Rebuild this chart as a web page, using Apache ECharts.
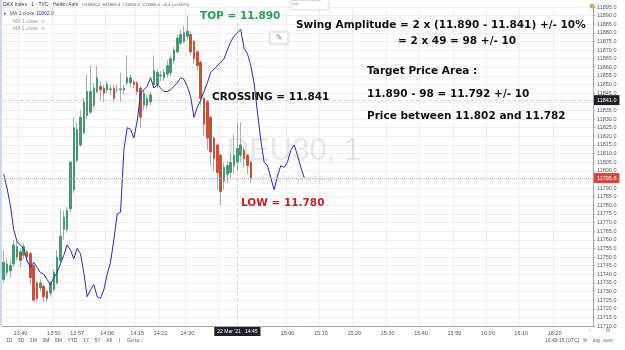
<!DOCTYPE html>
<html><head><meta charset="utf-8">
<script src="https://cdn.jsdelivr.net/npm/echarts@6/dist/echarts.min.js"></script>
<style>html,body{margin:0;padding:0;background:#fff}#c{width:625px;height:350px}</style>
</head><body><div id="c"></div>
<script>
// ---- data (1-minute Heikin Ashi candles, DAX) ----
const opens  = [11737,11741,11742,11746,11750,11753,11751,11753,11752,11745,
                11735,11732,11733,11730,11729,11731,11735,11748,11766,11766,
                11778,11789,11806,11815,11822,11832,11834,11838,11846,11849,
                11848,11847,11847,11848,11847,11847,11847,11851,11851,11851.5,
                11851,11848,11838,11838,11840,11850,11850,11855,11854,11856,
                11857,11864,11869,11874,11875,11878,11879,11875,11869,11863,
                11842,11840,11831,11819,11815,11809,11794,11798,11799,11803,
                11805,11809,11812,11809,11805];
const closes = [11747,11746,11745,11757,11756,11748,11756,11750,11738,11725,
                11726,11735,11727,11726,11735,11741,11750,11762,11773,11777,
                11805,11825,11824,11831,11840,11846,11846,11848,11854,11847,
                11845,11850,11847.5,11842,11847,11847.5,11848,11854,11854,11850,
                11846,11831,11845,11842,11844,11858,11857,11855.5,11857,11861,
                11865,11870,11877,11879,11880,11881,11869,11865,11861,11842,
                11827,11819,11811,11807,11799,11788,11802,11803,11805,11809,
                11813,11815,11807,11803,11795.8];
const lows   = [11735,11739,11738,11744,11748,11744,11749,11747,11734,11724,
                11724,11730,11724,11724,11727,11730,11734,11747,11760,11764,
                11776,11787,11805,11814,11821,11830,11833,11836,11845,11841,
                11840,11845,11844,11840,11845,11840,11844,11849,11849,11848,
                11844,11825,11835,11836,11838,11848,11848,11852,11852,11854,
                11855,11862,11868,11873,11874,11876,11867,11862,11858,11838,
                11820,11812,11803,11800,11789,11780,11789,11793,11795,11798,
                11800,11805,11802,11798,11793];
const highs  = [11754,11749,11748,11760,11759,11755,11758,11754,11753,11746,
                11736,11737,11734,11731,11736,11743,11754,11778,11777,11779,
                11806,11831,11828,11835,11842,11856,11861,11851,11861,11852,
                11850,11852,11850,11850,11850,11857,11850,11867,11856,11853,
                11852,11849,11847,11844,11846,11867,11859,11858,11859,11864,
                11867,11872,11879,11882,11884,11890,11881,11876,11870,11864,
                11843,11841,11832,11820,11816,11810,11805,11806,11810,11821,
                11828,11828,11814,11810,11806];
// overlay line (MA 1 close, blue)
const maLine = [11798,11790,11780,11766,11759,11757,11755,11748,11744,11747,
                11744,11741,11740,11737,11734,11738,11741,11746,11751,11757,
                11754,11749,11755,11752,11741,11727,11731,11734,11727,11726,
                11731,11740,11747,11760,11775,11776,11812,11825,11824,11819,
                11829,11845,11847,11849,11854,11848,11850,11848,11846,11846,
                11847,11849,11851,11854,11853,11849,11843,11831,11837,11841,
                11846,11851,11857,11859,11861,11863,11865,11870,11875,11878,
                11880,11882,11871,11868,11861,11851,11834,11818,11805,11803,
                11796,11789,11797,11803,11802,11805,11812,11815,11809,11802,
                11796];
const xTickLabels = ['13:40','13:50','13:57','14:06','14:15','14:22','14:30','14:40',
                     '15:00','15:10','15:20','15:30','15:40','15:50','16:00','16:10','16:20'];
const startMinute = 13*60+35;
const minuteCount = 177;
const currentPrice = 11795.8;
const crossingPrice = 11841;
const crosshairTime = '14:45';
const yMin = 11710, yMax = 11895, yStep = 5;

const categories = [];
for (let i = 0; i < minuteCount; i++) {
  const m = startMinute + i;
  categories.push(String(Math.floor(m/60)).padStart(2,'0') + ':' + String(m%60).padStart(2,'0'));
}
const wickData = opens.map((o,i)=>[o, closes[i], lows[i], highs[i]]);
const bodyData = opens.map((o,i)=>[o, closes[i], Math.min(o,closes[i]), Math.max(o,closes[i])]);

const GREEN = '#4a9870', RED = '#c6523b';
const small = {fontSize:5.5, color:'#555', fontFamily:'"Liberation Sans", Arial'};
const bold = 'bold 10.5px "DejaVu Sans", Verdana';
const showTick = (idx, val) => xTickLabels.includes(val);
const crossLine = {color:'rgba(140,140,140,0.3)', type:'dashed', width:1};
const blackLabel = {show:true, distance:1, backgroundColor:'#1e2228', color:'#fff', fontSize:5.5, padding:[2,3], fontFamily:'"Liberation Sans", Arial'};

const chart = echarts.init(document.getElementById('c'), null, {renderer:'canvas'});
chart.setOption({
  animation:false,
  backgroundColor:'#fff',
  grid:{left:2, right:32, top:7, bottom:24, show:false},
  xAxis:{type:'category', data:categories, boundaryGap:true,
    axisLine:{lineStyle:{color:'#a3a8ae'}}, axisTick:{show:false},
    axisLabel:Object.assign({interval:showTick, margin:4}, small),
    splitLine:{show:true, interval:showTick, lineStyle:{color:'#eceff3'}}},
  yAxis:{type:'value', position:'right', min:yMin, max:yMax, interval:yStep,
    axisLine:{show:true, lineStyle:{color:'#a3a8ae'}},
    axisTick:{show:true, length:2, lineStyle:{color:'#a3a8ae'}},
    axisLabel:Object.assign({margin:4, formatter:v=>v.toFixed(1)}, small),
    splitLine:{show:true, lineStyle:{color:'#eef0f4'}}},
  series:[
    {type:'candlestick', data:wickData, barWidth:1, z:2,
      itemStyle:{color:'#a6b0aa', color0:'#a6b0aa', borderColor:'#a6b0aa', borderColor0:'#a6b0aa', borderWidth:1}},
    {type:'candlestick', data:bodyData, barWidth:2, z:3,
      itemStyle:{color:GREEN, color0:RED, borderColor:GREEN, borderColor0:RED, borderWidth:1},
      markLine:{silent:true, symbol:'none', animation:false, data:[
        {yAxis:currentPrice, lineStyle:{color:'#bdbdbd', type:'dotted', width:1},
          label:Object.assign({}, blackLabel, {position:'end', formatter:currentPrice.toFixed(1), backgroundColor:'#e0453c'})},
        {yAxis:crossingPrice, lineStyle:crossLine,
          label:Object.assign({}, blackLabel, {position:'end', formatter:crossingPrice.toFixed(1)})},
        {xAxis:crosshairTime, lineStyle:crossLine,
          label:Object.assign({}, blackLabel, {position:'start', fontSize:5, formatter:"22 Mar '21   " + crosshairTime})}
      ]}},
    {type:'line', data:maLine, showSymbol:false, symbol:'none', z:4,
      lineStyle:{color:'#2d2d9e', width:1}}
  ],
  graphic:[
    {type:'rect', z:0, shape:{x:0,y:0,width:2,height:326}, style:{fill:'#cdd9ee'}},
    {type:'text', z:1, x:294, y:151, style:{text:'DEU30, 1', font:'31px "Liberation Sans", Arial', fill:'rgba(0,0,0,0.09)', textAlign:'center', textVerticalAlign:'middle'}},
    {type:'text', z:1, x:297, y:180, style:{text:'DAX Index', font:'15px "Liberation Sans", Arial', fill:'rgba(0,0,0,0.09)', textAlign:'center', textVerticalAlign:'middle'}},
    // header legend
    {type:'text', z:50, x:3, y:5, style:{text:'DAX Index · 1 · TVC · Heikin Ashi', font:'5px "Liberation Sans", Arial', fill:'#333', textVerticalAlign:'middle'}},
    {type:'text', z:50, x:82, y:5, style:{text:'O11805.2  H11805.4  L11805.2  C11805.4  +0.4 (+0.00%)', font:'4.2px "Liberation Sans", Arial', fill:'#555', textVerticalAlign:'middle'}},
    {type:'text', z:50, x:4, y:14, style:{text:'▸  MA 1 close', font:'5px "Liberation Sans", Arial', fill:'#555', textVerticalAlign:'middle'}},
    {type:'text', z:50, x:36, y:14, style:{text:'11802.0', font:'5px "Liberation Sans", Arial', fill:'#2d2d9e', textVerticalAlign:'middle'}},
    {type:'text', z:50, x:13, y:22, style:{text:'MA 1 close  ⊙', font:'5px "Liberation Sans", Arial', fill:'#999', textVerticalAlign:'middle'}},
    {type:'text', z:50, x:13, y:29, style:{text:'MA 1 close  ⊙', font:'5px "Liberation Sans", Arial', fill:'#999', textVerticalAlign:'middle'}},
    // small ui boxes
    {type:'rect', z:50, shape:{x:290,y:-1,width:39,height:11}, style:{fill:'#fff', stroke:'#ddd', lineWidth:1}},
    {type:'text', z:51, x:292, y:2.5, style:{text:'Edit text, drawings\nhide', font:'3.5px "Liberation Sans", Arial', fill:'#999', textVerticalAlign:'middle'}},
    {type:'rect', z:50, shape:{x:270,y:32,width:18,height:12, r:1}, style:{fill:'#fff', stroke:'#e2e2e2', lineWidth:1, shadowBlur:2, shadowColor:'rgba(0,0,0,0.15)'}},
    {type:'text', z:51, x:279, y:38, style:{text:'✎', font:'8px "DejaVu Sans"', fill:'#888', textAlign:'center', textVerticalAlign:'middle'}},
    {type:'circle', z:50, shape:{cx:592, cy:6, r:2.5}, style:{fill:'#f4a24a'}},
    // annotations
    {type:'text', z:60, x:200, y:16, style:{text:'TOP = 11.890', font:bold, fill:'#2e9d58', textVerticalAlign:'middle'}},
    {type:'text', z:60, x:296, y:25, style:{text:'Swing Amplitude = 2 x (11.890 - 11.841) +/- 10%', font:bold, fill:'#111', textVerticalAlign:'middle'}},
    {type:'text', z:60, x:398, y:41, style:{text:'= 2 x 49 = 98 +/- 10', font:bold, fill:'#111', textVerticalAlign:'middle'}},
    {type:'text', z:60, x:367, y:71, style:{text:'Target Price Area :', font:bold, fill:'#111', textVerticalAlign:'middle'}},
    {type:'text', z:60, x:367, y:94, style:{text:'11.890 - 98 = 11.792 +/- 10', font:bold, fill:'#111', textVerticalAlign:'middle'}},
    {type:'text', z:60, x:367, y:116, style:{text:'Price between 11.802 and 11.782', font:bold, fill:'#111', textVerticalAlign:'middle'}},
    {type:'text', z:60, x:212, y:97, style:{text:'CROSSING = 11.841', font:bold, fill:'#111', textVerticalAlign:'middle'}},
    {type:'text', z:60, x:241, y:203, style:{text:'LOW = 11.780', font:bold, fill:'#c4232b', textVerticalAlign:'middle'}},
    // bottom toolbar
    {type:'text', z:50, x:6, y:341, style:{text:'1D    5D    1M    3M    6M    YTD    1Y    5Y    All     |     Go to...', font:'5px "Liberation Sans", Arial', fill:'#555', textVerticalAlign:'middle'}},
    {type:'text', z:50, x:545, y:341, style:{text:'16:49:15 (UTC)', font:'5px "Liberation Sans", Arial', fill:'#555', textVerticalAlign:'middle'}},
    {type:'text', z:50, x:583, y:341, style:{text:'%    log', font:'5px "Liberation Sans", Arial', fill:'#555', textVerticalAlign:'middle'}},
    {type:'text', z:50, x:603, y:341, style:{text:'auto', font:'5px "Liberation Sans", Arial', fill:'#3d7fd9', textVerticalAlign:'middle'}},
    {type:'text', z:50, x:608, y:330, style:{text:'⚙', font:'6px "DejaVu Sans"', fill:'#888', textAlign:'center', textVerticalAlign:'middle'}},
    {type:'text', z:50, x:590, y:330, style:{text:'›', font:'6px "DejaVu Sans"', fill:'#888', textAlign:'center', textVerticalAlign:'middle'}}
  ]
});
</script></body></html>
